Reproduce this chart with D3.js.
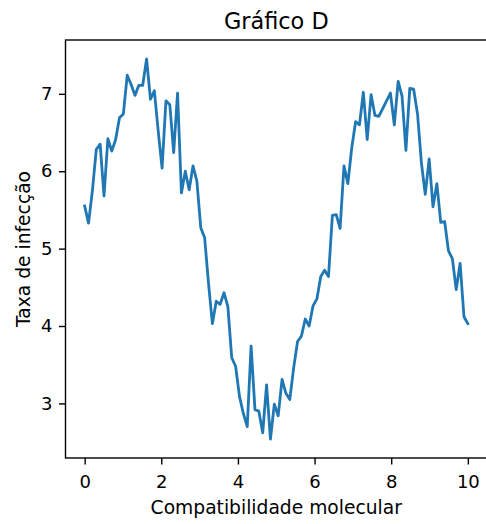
<!DOCTYPE html>
<html>
<head>
<meta charset="utf-8">
<script src="https://cdn.jsdelivr.net/npm/d3@7"></script>
<style>
  html, body { margin: 0; padding: 0; background: #fff; }
  svg { display: block; }
  text { font-family: "DejaVu Sans", sans-serif; fill: #000; }
</style>
</head>
<body>
<script>
// Taxa de infecção ao longo de 100 valores de compatibilidade molecular (0 a 10)
const taxa = [
  5.55, 5.33, 5.75, 6.28, 6.35, 5.68, 6.42, 6.26, 6.41, 6.69,
  6.74, 7.24, 7.12, 6.98, 7.11, 7.11, 7.45, 6.93, 7.04, 6.52,
  6.04, 6.91, 6.86, 6.24, 7.01, 5.72, 6.00, 5.76, 6.07, 5.87,
  5.27, 5.14, 4.55, 4.03, 4.32, 4.28, 4.43, 4.25, 3.59, 3.48,
  3.09, 2.87, 2.70, 3.74, 2.92, 2.90, 2.62, 3.24, 2.54, 2.99,
  2.84, 3.31, 3.13, 3.05, 3.46, 3.80, 3.87, 4.09, 4.00, 4.26,
  4.35, 4.64, 4.72, 4.64, 5.43, 5.44, 5.26, 6.07, 5.84, 6.30,
  6.64, 6.60, 7.02, 6.41, 6.99, 6.72, 6.71, 6.81, 6.91, 7.01,
  6.60, 7.16, 6.97, 6.27, 7.07, 7.06, 6.74, 6.11, 5.70, 6.16,
  5.54, 5.84, 5.34, 5.35, 4.97, 4.87, 4.47, 4.81, 4.12, 4.03
];
const compat = taxa.map((_, i) => i * 10 / (taxa.length - 1));
const xTicks = [0, 2, 4, 6, 8, 10];
const yTicks = [3, 4, 5, 6, 7];
const titulo = "Gráfico D";
const rotuloX = "Compatibilidade molecular";
const rotuloY = "Taxa de infecção";

const W = 486, H = 524;
const m = { left: 65.5, top: 40, right: 487, bottom: 458 };
const fontTick = 18, fontLabel = 18.7, fontTitle = 22.4;

const svg = d3.select("body").append("svg")
  .attr("width", W).attr("height", H);

// 5% margin around the data range
const xExt = d3.extent(compat), yExt = d3.extent(taxa);
const xPad = (xExt[1] - xExt[0]) * 0.05, yPad = (yExt[1] - yExt[0]) * 0.05;

const x = d3.scaleLinear().domain([xExt[0] - xPad, xExt[1] + xPad]).range([m.left, m.right]);
const y = d3.scaleLinear().domain([yExt[0] - yPad, yExt[1] + yPad]).range([m.bottom, m.top]);

const tickLen = 6.5, tickPad = 6.5;

const gx = svg.append("g")
  .attr("transform", `translate(0,${m.bottom})`)
  .call(d3.axisBottom(x).tickValues(xTicks).tickFormat(d3.format("d"))
    .tickSizeInner(tickLen).tickSizeOuter(0).tickPadding(tickPad));
const gy = svg.append("g")
  .attr("transform", `translate(${m.left},0)`)
  .call(d3.axisLeft(y).tickValues(yTicks).tickFormat(d3.format("d"))
    .tickSizeInner(tickLen).tickSizeOuter(0).tickPadding(tickPad));

[gx, gy].forEach(g => {
  g.select(".domain").remove();
  g.selectAll(".tick line").attr("stroke", "#000").attr("stroke-width", 1.4);
  g.selectAll(".tick text")
    .style("font-family", "'DejaVu Sans', sans-serif")
    .style("font-size", fontTick + "px").attr("fill", "#000");
});
// x tick labels sit with their baseline just under the ticks
gx.selectAll(".tick text").attr("y", 30).attr("dy", 0);

// data line
const line = d3.line().x((d, i) => x(compat[i])).y(d => y(d));
svg.append("path")
  .datum(taxa)
  .attr("d", line)
  .attr("fill", "none")
  .attr("stroke", "#1f77b4")
  .attr("stroke-width", 2.8)
  .attr("stroke-linejoin", "round")
  .attr("stroke-linecap", "square");

// frame
svg.append("rect")
  .attr("x", m.left).attr("y", m.top)
  .attr("width", m.right - m.left).attr("height", m.bottom - m.top)
  .attr("fill", "none").attr("stroke", "#000").attr("stroke-width", 1.4);

const cx = (m.left + m.right) / 2;
svg.append("text")
  .attr("x", cx).attr("y", 28.5)
  .attr("text-anchor", "middle")
  .style("font-size", fontTitle + "px")
  .text(titulo);

svg.append("text")
  .attr("x", cx).attr("y", 514)
  .attr("text-anchor", "middle")
  .style("font-size", fontLabel + "px")
  .text(rotuloX);

svg.append("text")
  .attr("transform", `translate(30,${(m.top + m.bottom) / 2}) rotate(-90)`)
  .attr("text-anchor", "middle")
  .style("font-size", fontLabel + "px")
  .text(rotuloY);
</script>
</body>
</html>
